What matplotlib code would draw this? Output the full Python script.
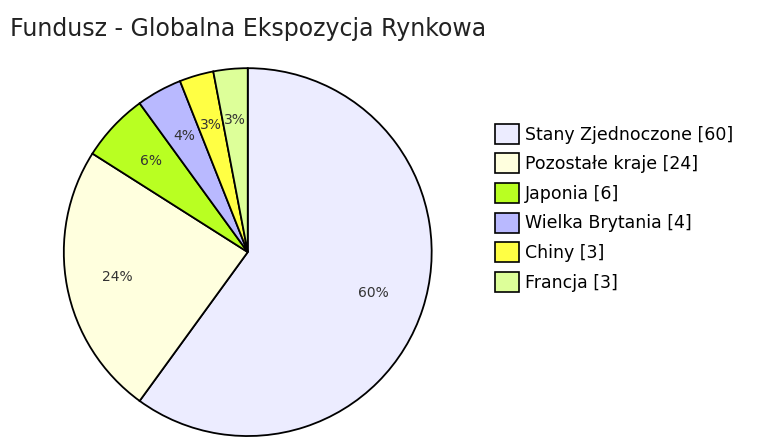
import matplotlib
matplotlib.use("Agg")
import matplotlib.pyplot as plt
from matplotlib.patches import Patch

labels = ["Stany Zjednoczone", "Pozostałe kraje", "Japonia", "Wielka Brytania", "Chiny", "Francja"]
values = [60, 24, 6, 4, 3, 3]
colors = ["#ECECFF", "#FFFFDE", "#B9FF22", "#B9B9FF", "#FFFF44", "#DDFF99"]

fig = plt.figure(figsize=(7.67, 4.47), dpi=100)
ax = fig.add_axes([0.082, 0.022, 0.482, 0.828])
ax.pie(values, colors=colors, startangle=90, counterclock=False,
       autopct=lambda p: f"{p:.0f}%", pctdistance=0.72,
       wedgeprops=dict(edgecolor="black", linewidth=1.3),
       textprops=dict(fontsize=10, color="#333333"))
ax.set_xlim(-1.005, 1.005)
ax.set_ylim(-1.005, 1.005)
ax.set_aspect("equal")
fig.text(0.013, 0.935, "Fundusz - Globalna Ekspozycja Rynkowa", fontsize=17, color="#222222", va="center")
handles = [Patch(facecolor=c, edgecolor="black", linewidth=1.2) for c in colors]
fig.legend(handles, [f"{l} [{v}]" for l, v in zip(labels, values)],
           loc="center left", bbox_to_anchor=(0.625, 0.535), frameon=False,
           fontsize=12.5, handlelength=1.4, handleheight=1.4, labelspacing=0.55, handletextpad=0.3)
fig.savefig("out.png", dpi=100)
